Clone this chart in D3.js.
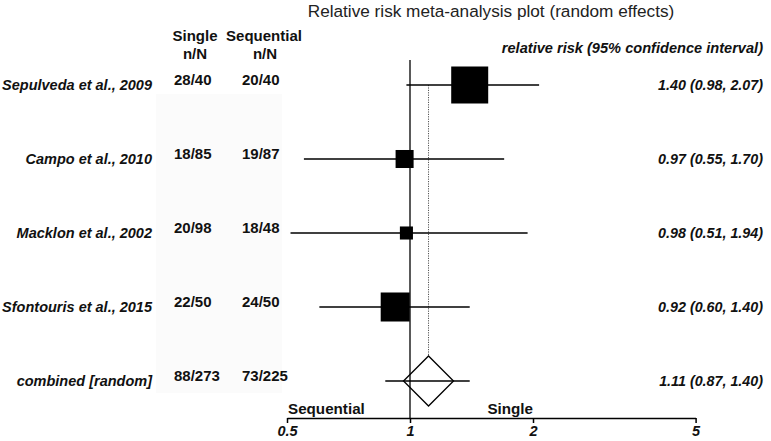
<!DOCTYPE html>
<html><head><meta charset="utf-8">
<script src="https://cdn.jsdelivr.net/npm/d3@7"></script>
<style>
html,body{margin:0;padding:0;background:#fff;}
svg{display:block;font-family:"Liberation Sans",Arial,sans-serif;}
</style></head>
<body>
<script>
const studies = ["Sepulveda et al., 2009", "Campo et al., 2010", "Macklon et al., 2002", "Sfontouris et al., 2015"];
const singleCounts = ["28/40", "18/85", "20/98", "22/50"];
const seqCounts = ["20/40", "19/87", "18/48", "24/50"];
const rr = [1.40, 0.97, 0.98, 0.92];
const lower = [0.98, 0.55, 0.51, 0.60];
const upper = [2.07, 1.70, 1.94, 1.40];
const weights = [50.6, 12.0, 6.3, 31.1];
const combinedLabel = "combined [random]";
const combinedSingle = "88/273";
const combinedSeq = "73/225";
const combinedRR = 1.11, combinedLower = 0.87, combinedUpper = 1.40;
const tickValues = [0.5, 1, 2, 5];
const tickLabels = ["0.5", "1", "2", "5"];

const W = 771, H = 441;
const svg = d3.select("body").append("svg").attr("width", W).attr("height", H);

const x = d3.scaleLog().domain([0.5, 5]).range([287, 695.6]);
const rows = studies.concat([combinedLabel]);
const y = d3.scalePoint().domain(rows).range([85, 381]);
const side = d3.scaleSqrt().domain([0, d3.max(weights)]).range([0, 37]);
const fmt = d3.format(".2f");

// background panel
svg.append("rect").attr("x", 156).attr("y", 94).attr("width", 126).attr("height", 299).attr("fill", "#fbfbfb");

// title
svg.append("text").attr("x", 491).attr("y", 17).attr("text-anchor", "middle")
  .attr("font-size", 17.2).attr("fill", "#222").text("Relative risk meta-analysis plot (random effects)");

// column headers
const hdr = svg.append("g").attr("font-weight", "bold").attr("font-size", 15).attr("text-anchor", "middle").attr("fill", "#111");
hdr.append("text").attr("x", 195).attr("y", 41).text("Single");
hdr.append("text").attr("x", 195).attr("y", 59).text("n/N");
hdr.append("text").attr("x", 264).attr("y", 41).text("Sequential");
hdr.append("text").attr("x", 265).attr("y", 59).text("n/N");
svg.append("text").attr("x", 763).attr("y", 53).attr("text-anchor", "end")
  .attr("font-weight", "bold").attr("font-style", "italic").attr("font-size", 14.6).attr("fill", "#111")
  .text("relative risk (95% confidence interval)");

const allRows = studies.map((s, i) => ({label: s, s1: singleCounts[i], s2: seqCounts[i], rr: rr[i], lo: lower[i], hi: upper[i], w: weights[i]}));
const comb = {label: combinedLabel, s1: combinedSingle, s2: combinedSeq, rr: combinedRR, lo: combinedLower, hi: combinedUpper};
const textRows = allRows.concat([comb]);

// labels
svg.append("g").selectAll("text").data(textRows).join("text")
  .attr("x", 152).attr("y", d => y(d.label) + 4.5).attr("text-anchor", "end")
  .attr("font-weight", "bold").attr("font-style", "italic").attr("font-size", 14.5).attr("fill", "#111")
  .text(d => d.label);
svg.append("g").selectAll("text").data(textRows).join("text")
  .attr("x", 174).attr("y", d => y(d.label) - 0.5)
  .attr("font-weight", "bold").attr("font-size", 15).attr("fill", "#111").text(d => d.s1);
svg.append("g").selectAll("text").data(textRows).join("text")
  .attr("x", 242).attr("y", d => y(d.label) - 0.5)
  .attr("font-weight", "bold").attr("font-size", 15).attr("fill", "#111").text(d => d.s2);
svg.append("g").selectAll("text").data(textRows).join("text")
  .attr("x", 763).attr("y", d => y(d.label) + 5).attr("text-anchor", "end")
  .attr("font-weight", "bold").attr("font-style", "italic").attr("font-size", 14.3).attr("fill", "#111")
  .text(d => `${fmt(d.rr)} (${fmt(d.lo)}, ${fmt(d.hi)})`);

// axis
const axisY = 418;
const axis = d3.axisBottom(x).tickValues(tickValues).tickSize(5).tickSizeOuter(0)
  .tickFormat((d, i) => tickLabels[i]);
const ag = svg.append("g").attr("transform", `translate(0,${axisY})`).call(axis);
ag.select(".domain").attr("stroke", "#000").attr("stroke-width", 1.5);
ag.selectAll(".tick line").attr("stroke", "#000").attr("stroke-width", 1.5);
ag.selectAll(".tick text").attr("font-family", "Liberation Sans, Arial, sans-serif")
  .attr("font-weight", "bold").attr("font-style", "italic").attr("font-size", 14.5).attr("fill", "#111")
  .attr("y", 8);

svg.append("text").attr("x", x(0.5) + 1).attr("y", 414).attr("font-weight", "bold").attr("font-size", 15.2).attr("fill", "#111").text("Sequential");
svg.append("text").attr("x", x(2)).attr("y", 414).attr("text-anchor", "end").attr("font-weight", "bold").attr("font-size", 15.2).attr("fill", "#111").text("Single");

// reference line at 1
svg.append("line").attr("x1", x(1)).attr("x2", x(1)).attr("y1", 60).attr("y2", axisY)
  .attr("stroke", "#000").attr("stroke-width", 1.3);

// dotted line at combined estimate
svg.append("line").attr("x1", x(combinedRR)).attr("x2", x(combinedRR))
  .attr("y1", y(studies[0])).attr("y2", y(combinedLabel) - 25)
  .attr("stroke", "#555").attr("stroke-width", 1).attr("stroke-dasharray", "1.2,1.2");

// CI lines
svg.append("g").selectAll("line").data(textRows).join("line")
  .attr("x1", d => x(d.lo)).attr("x2", d => x(d.hi))
  .attr("y1", d => y(d.label)).attr("y2", d => y(d.label))
  .attr("stroke", "#000").attr("stroke-width", 1.3);

// squares
svg.append("g").selectAll("rect").data(allRows).join("rect")
  .attr("x", d => x(d.rr) - side(d.w) / 2).attr("y", d => y(d.label) - side(d.w) / 2)
  .attr("width", d => side(d.w)).attr("height", d => side(d.w)).attr("fill", "#000");

// diamond
const cx = x(combinedRR), cy = y(combinedLabel), hd = 25;
svg.append("path")
  .attr("d", `M${cx - hd},${cy}L${cx},${cy - hd}L${cx + hd},${cy}L${cx},${cy + hd}Z`)
  .attr("fill", "none").attr("stroke", "#000").attr("stroke-width", 1.3);
</script>
</body></html>
